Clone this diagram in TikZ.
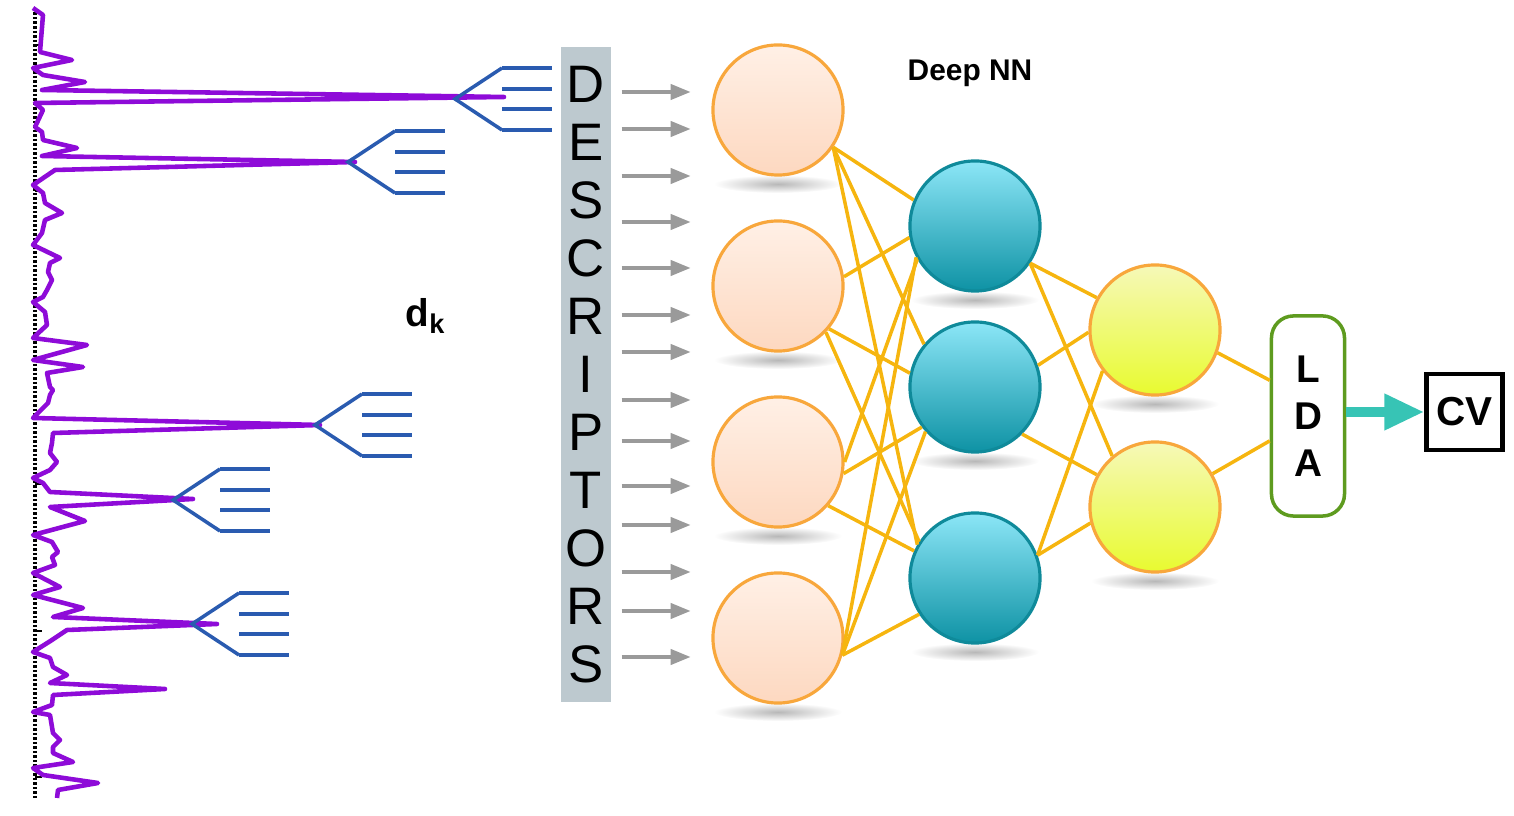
\documentclass[tikz,border=0pt]{standalone}
\usepackage{fontspec}
\setmainfont{Liberation Sans}
\usepackage{tikz}
\usetikzlibrary{positioning,arrows.meta,calc}
\definecolor{specc}{HTML}{8E0BD8}
\definecolor{forkc}{HTML}{2A5BB0}
\definecolor{descc}{HTML}{BDC9CF}
\definecolor{arrc}{HTML}{9A9A9A}
\definecolor{linkc}{HTML}{F6B50F}
\definecolor{inc}{HTML}{F8A73C}
\definecolor{intop}{HTML}{FFF0E6}
\definecolor{inbot}{HTML}{FDD8C0}
\definecolor{hidc}{HTML}{0F8A9A}
\definecolor{hidtop}{HTML}{8CE6F7}
\definecolor{hidbot}{HTML}{0E92A4}
\definecolor{outtop}{HTML}{F6F9B8}
\definecolor{outbot}{HTML}{E8FA30}
\definecolor{ldac}{HTML}{5E9B1F}
\definecolor{cvarc}{HTML}{37C4B5}
\tikzset{
  spec/.style={draw=specc, line width=1.3pt, line join=round},
  fk/.style={draw=forkc, line width=1pt},
  neuron/.style={circle, minimum size=1.3cm, inner sep=0pt, line width=0.9pt},
  inn/.style={neuron, draw=inc, top color=intop, bottom color=inbot},
  hid/.style={neuron, draw=hidc, top color=hidtop, bottom color=hidbot},
  outn/.style={neuron, draw=inc, top color=outtop, bottom color=outbot},
  link/.style={draw=linkc, line width=1pt},
  darr/.style={-{Triangle[length=2mm,width=1.5mm]}, draw=arrc, line width=1.1pt},
  descbar/.style={fill=descc, minimum width=0.5cm, minimum height=6.55cm, inner sep=0pt,
                  align=center, font=\fontsize{15}{16.5}\selectfont},
  ldabox/.style={draw=ldac, fill=white, rounded corners=2.2mm, line width=1pt, align=center,
                 minimum width=0.73cm, minimum height=2cm, font=\fontsize{11}{13.3}\selectfont\bfseries},
  cvbox/.style={draw=black, line width=1.2pt, minimum size=0.76cm, inner sep=0pt,
                font=\fontsize{11.5}{13}\selectfont\bfseries},
  cvarrow/.style={-{Triangle[length=4mm,width=3.4mm]}, draw=cvarc, line width=1mm},
  lbl/.style={font=\fontsize{11}{13}\selectfont\bfseries},
  shad/.style={inner color=black!28, outer color=white},
}
\begin{document}
\begin{tikzpicture}[x=0.01cm, y=-0.01cm, node distance=0.78cm]
  \useasboundingbox (0,0) rectangle (1514,816);

  \draw[dash pattern=on 0.25mm off 0.2mm, line width=1pt] (35,8) -- (35,798);
  \foreach \t in {45,191,338,484,631,777} \draw[line width=0.8pt] (35,\t) -- (42,\t);
  \draw[spec] plot coordinates {(33,8) (43,15) (40,52) (72,60) (33,68) (43,75) (85,82) (42,90)
    (504,97) (35,103) (43,110) (35,127) (42,132) (43,140) (77,148) (42,156) (355,162) (55,170)
    (33,185) (43,193) (45,203) (62,213) (45,220) (42,233) (33,245) (60,258) (50,263) (48,272)
    (52,280) (47,290) (43,297) (33,302) (45,312) (47,325) (33,338) (87,345) (33,360) (83,367)
    (47,373) (50,387) (53,390) (50,395) (48,403) (33,418) (320,425) (53,433) (52,443) (50,453)
    (57,462) (50,470) (33,478) (43,483) (50,492) (193,499) (50,507) (85,521) (33,535) (52,542)
    (58,552) (52,557) (55,565) (33,573) (60,587) (33,595) (83,608) (53,617) (217,624) (67,630)
    (52,640) (33,652) (50,658) (53,667) (67,675) (50,683) (165,689) (53,695) (52,705) (33,712)
    (50,715) (53,733) (60,740) (53,747) (53,753) (73,762) (33,768) (43,775) (98,783) (58,790)
    (57,798)};
  \foreach \fx/\fy in {455/99, 348/162, 315/425, 173/500, 192/624} {
    \draw[fk] (\fx+47,\fy-31) -- (\fx,\fy) -- (\fx+47,\fy+31);
    \foreach \dy in {-31,-10,10,31} \draw[fk] (\fx+47,\fy+\dy) -- (\fx+97,\fy+\dy);
  }
  \node[lbl] (dk) at (426,316) {d\textsubscript{k}};

  \node[descbar] (desc) at (586,374.5) {D\\E\\S\\C\\R\\I\\P\\T\\O\\R\\S};
  \foreach \y in {92,129,176,222,268,315,352,400,441,486,525,572,611,657}
    \draw[darr] ($(desc.east |- 0,\y)+(10,0)$) -- ++(69,0);

  \foreach \y in {110,286,462,638} \shade[shad] (778,\y+74) ellipse [x radius=64, y radius=9];
  \foreach \y in {226,387,578} \shade[shad] (975,\y+74) ellipse [x radius=64, y radius=9];
  \foreach \y in {330,507} \shade[shad] (1155,\y+74) ellipse [x radius=64, y radius=9];

  \foreach \i/\y in {1/110,2/286,3/462,4/638} \node[inn] (in\i) at (778,\y) {};
  \foreach \j/\y in {1/226,2/387,3/578} \node[hid] (h\j) at (975,\y) {};
  \foreach \k/\y in {1/330,2/507} \node[outn] (o\k) at (1155,\y) {};
  \node[font=\fontsize{8.5}{10}\selectfont\bfseries] (dnn) at (970,73) {Deep NN};

  \node[ldabox] (lda) at (1308,416) {L\\D\\A};
  \node[cvbox, right=of lda, yshift=0.4mm] (cv) {CV};

  \foreach \i/\a/\j/\b in {1/-34/1/157, 1/-34/2/140, 1/-34/3/150, 2/8/1/190, 2/-40/2/168,
      2/-44/3/147, 3/0/1/210, 3/-10/2/217, 3/-41/3/156, 4/-15/1/208, 4/-15/2/222, 4/-15/3/213}
    \draw[link] (in\i.\a) -- (h\j.\b);
  \foreach \j/\a/\k/\b in {1/-34/1/151, 1/-34/2/130, 2/19/1/182, 2/-45/2/151, 3/20/1/218, 3/20/2/194}
    \draw[link] (h\j.\a) -- (o\k.\b);
  \draw[link] (o1.-20) -- (lda.137);
  \draw[link] (o2.30) -- (lda.213);
  \draw[cvarrow] (lda.east |- cv.west) -- (cv.west);
\end{tikzpicture}
\end{document}
